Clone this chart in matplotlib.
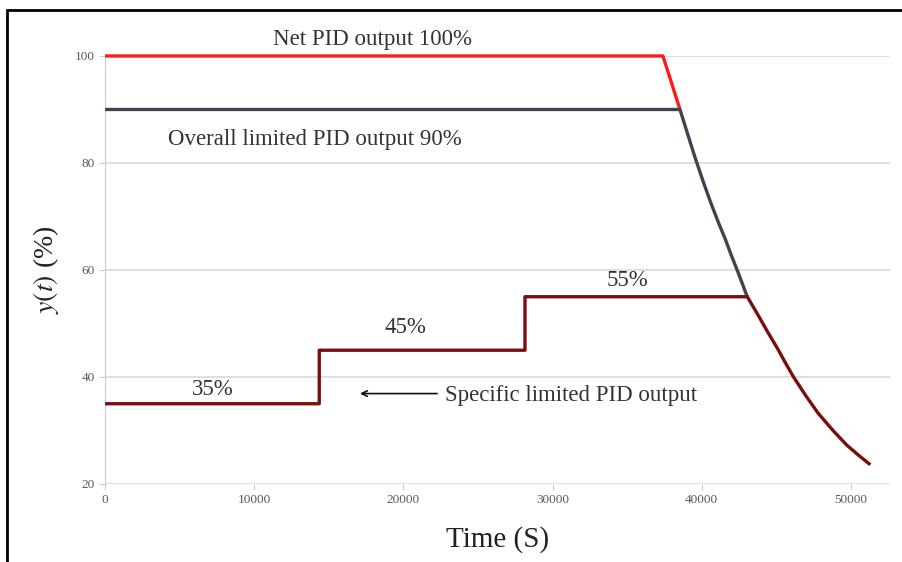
import matplotlib
matplotlib.use('Agg')
from matplotlib import pyplot as plt
from matplotlib.patches import Rectangle

plt.rcParams['font.family'] = ['Liberation Serif', 'DejaVu Serif']
plt.rcParams['mathtext.fontset'] = 'stix'

# net PID output (red)
net_t = [0, 37400, 38540]
net_y = [100, 100, 90]

# overall limited PID output (dark gray)
overall_t = [0, 38540, 39100, 39600, 40100, 40600, 41100, 41600, 42000, 42400, 43050]
overall_y = [90, 90, 85.0, 80.6, 76.5, 72.6, 69.0, 65.6, 62.6, 59.8, 55]

# specific limited PID output (dark red), steps then decay
specific_t = [0, 14360, 14360, 28150, 28150, 43050, 43790, 44400, 45020, 45600,
              46130, 47000, 47810, 48800, 49710, 50500, 51300]
specific_y = [35, 35, 45, 45, 55, 55, 51.5, 48.5, 45.6, 42.7,
              40.1, 36.4, 33.2, 30.0, 27.3, 25.4, 23.6]

x_ticks = [0, 10000, 20000, 30000, 40000, 50000]
y_ticks = [20, 40, 60, 80, 100]

fig = plt.figure(figsize=(9.03, 5.62), dpi=100)
ax = fig.add_axes([0.1163, 0.1388, 0.869, 0.7616])

for y in y_ticks:
    ax.axhline(y, color='#d9d9d9', lw=1.2, zorder=0)

kw = dict(lw=2.4, clip_on=False, solid_joinstyle='round', solid_capstyle='butt')
ax.plot(net_t, net_y, color='#ff1a1a', zorder=3, **kw)
ax.plot(overall_t, overall_y, color='#3d4450', zorder=4, **kw)
ax.plot(specific_t, specific_y, color='#7a0d0d', zorder=5, **kw)

ax.set_xlim(0, 52600)
ax.set_ylim(20, 100)
ax.set_xticks(x_ticks)
ax.set_yticks(y_ticks)
ax.tick_params(labelsize=9.5, colors='#595959', length=4, color='#cccccc')
for s in ['top', 'right', 'bottom']:
    ax.spines[s].set_visible(False)
ax.spines['left'].set_color('#cccccc')

ax.set_xlabel('Time (S)', fontsize=21, labelpad=14, color='#222222')
ax.set_ylabel(r'$y(t)$ (%)', fontsize=20, labelpad=10, color='#222222')

tkw = dict(fontsize=16.5, va='center', color='#333333')
ax.text(17900, 103.0, 'Net PID output 100%', ha='center', clip_on=False, **tkw)
ax.text(4220, 84.3, 'Overall limited PID output 90%', ha='left', **tkw)
ax.text(7240, 37.6, '35%', ha='center', **tkw)
ax.text(20170, 49.2, '45%', ha='center', **tkw)
ax.text(35050, 58.1, '55%', ha='center', **tkw)
ax.text(22790, 36.6, 'Specific limited PID output', ha='left', **tkw)
ax.annotate('', xy=(16900, 36.9), xytext=(22450, 36.9),
            arrowprops=dict(arrowstyle='->', color='#111111', lw=1.2))

fig.add_artist(Rectangle((7 / 903, -0.1), 1.2, 1 - 10 / 562 + 0.1,
                         transform=fig.transFigure, fill=False, lw=2, ec='black'))

fig.savefig('out.png', dpi=100)
